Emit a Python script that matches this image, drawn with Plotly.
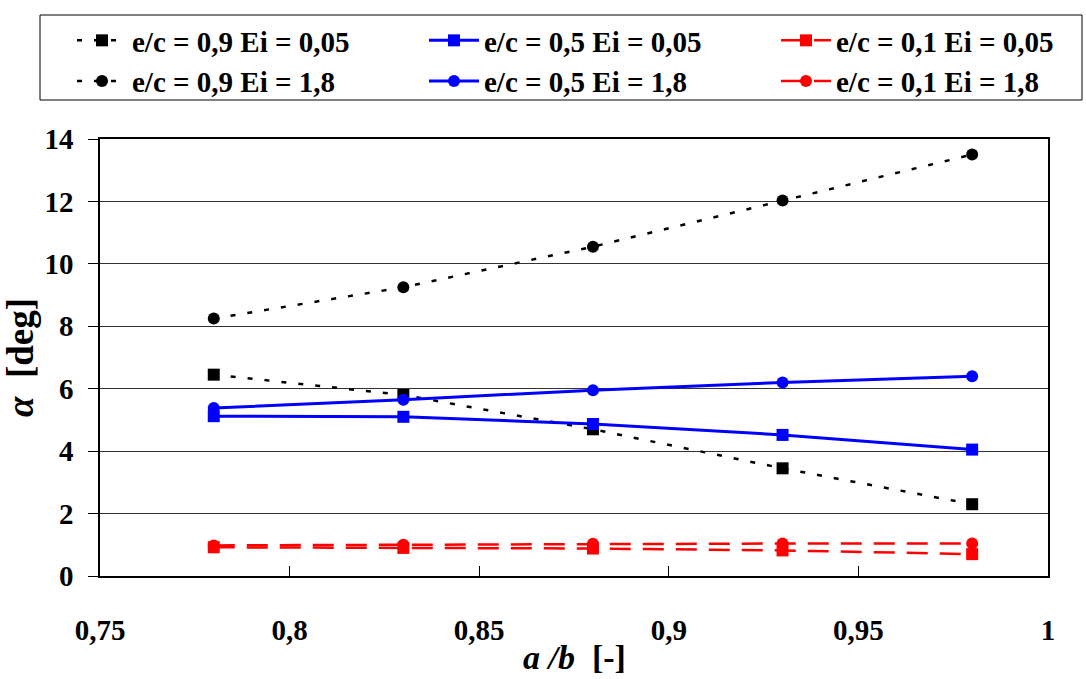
import plotly.graph_objects as go

x_vals = [0.78, 0.83, 0.88, 0.93, 0.98]

black_sq = [6.45, 5.8, 4.7, 3.45, 2.3]
blue_sq = [5.12, 5.1, 4.87, 4.52, 4.05]
red_sq = [0.92, 0.9, 0.88, 0.82, 0.7]
black_ci = [8.25, 9.25, 10.55, 12.03, 13.5]
blue_ci = [5.38, 5.65, 5.95, 6.2, 6.4]
red_ci = [0.98, 1.0, 1.03, 1.04, 1.04]

names = [
    "e/c = 0,9 Ei = 0,05", "e/c = 0,5 Ei = 0,05", "e/c = 0,1 Ei = 0,05",
    "e/c = 0,9 Ei = 1,8", "e/c = 0,5 Ei = 1,8", "e/c = 0,1 Ei = 1,8",
]
series = [black_sq, blue_sq, red_sq, black_ci, blue_ci, red_ci]
colors = ["black", "#0000ff", "#ff0000"] * 2
symbols = ["square"] * 3 + ["circle"] * 3
dashes = ["5px,12px", "solid", "21px,12px"] * 2
widths = [2.5, 3, 2.5] * 2
legend_ids = ["legend", "legend2", "legend3"] * 2

FONT = "Liberation Serif"
W, H = 1086, 679
ML, MR, MT, MB = 100, 38, 139, 103
PW, PH = W - ML - MR, H - MT - MB


def px_x(p):
    return (p - ML) / PW


def px_y(p):
    return (H - MB - p) / PH


fig = go.Figure()
for nm, ys, c, s, d, w, lg in zip(names, series, colors, symbols, dashes, widths, legend_ids):
    fig.add_trace(go.Scatter(
        x=x_vals, y=ys, name=nm, mode="lines+markers", legend=lg,
        line=dict(color=c, width=w, dash=d),
        marker=dict(symbol=s, size=12, color=c),
    ))

# legend frame
fig.add_shape(type="rect", xref="paper", yref="paper",
              x0=px_x(40), x1=px_x(1082), y0=px_y(100), y1=px_y(15),
              line=dict(color="black", width=1), fillcolor="rgba(0,0,0,0)")

fig.add_annotation(text="<b><i>a /b</i>  [-]</b>", xref="paper", yref="paper",
                   x=0.5, y=px_y(678), xanchor="center", yanchor="bottom",
                   showarrow=False, font=dict(family=FONT, size=34, color="black"))


def legend_cfg(px_left):
    return dict(
        orientation="v", xref="paper", yref="paper",
        x=px_x(px_left), y=px_y(15), xanchor="left", yanchor="top",
        itemwidth=50, borderwidth=0, bgcolor="rgba(0,0,0,0)",
        font=dict(family=FONT, size=29, color="black", weight="bold"),
    )


fig.update_layout(
    template="none",
    width=W, height=H,
    paper_bgcolor="white", plot_bgcolor="white",
    margin=dict(l=ML, r=MR, t=MT, b=MB),
    separators=",.",
    font=dict(family=FONT, size=28, color="black"),
    showlegend=True,
    legend=legend_cfg(72),
    legend2=legend_cfg(424),
    legend3=legend_cfg(776),
    xaxis=dict(
        range=[0.75, 1.0], dtick=0.05, tick0=0.75,
        showgrid=False, zeroline=False, automargin=False,
        showline=True, linecolor="black", linewidth=1.5, mirror=True,
        ticks="inside", ticklen=10, tickcolor="black",
        ticklabelstandoff=27,
        tickfont=dict(family=FONT, size=29, color="black", weight="bold"),
    ),
    yaxis=dict(
        range=[0, 14], dtick=2,
        showgrid=True, gridcolor="#333333", gridwidth=1, zeroline=False, automargin=False,
        showline=True, linecolor="black", linewidth=1.5, mirror=True,
        ticks="outside", ticklen=10, tickcolor="black",
        ticklabelstandoff=9,
        tickfont=dict(family=FONT, size=29, color="black", weight="bold"),
        title=dict(text="<b><i>α</i>  [deg]</b>", font=dict(family=FONT, size=37), standoff=4),
    ),
)

fig.write_html("out.html", config={"displayModeBar": False},
               post_script="document.body.style.margin='0px';document.body.style.overflow='hidden';")
